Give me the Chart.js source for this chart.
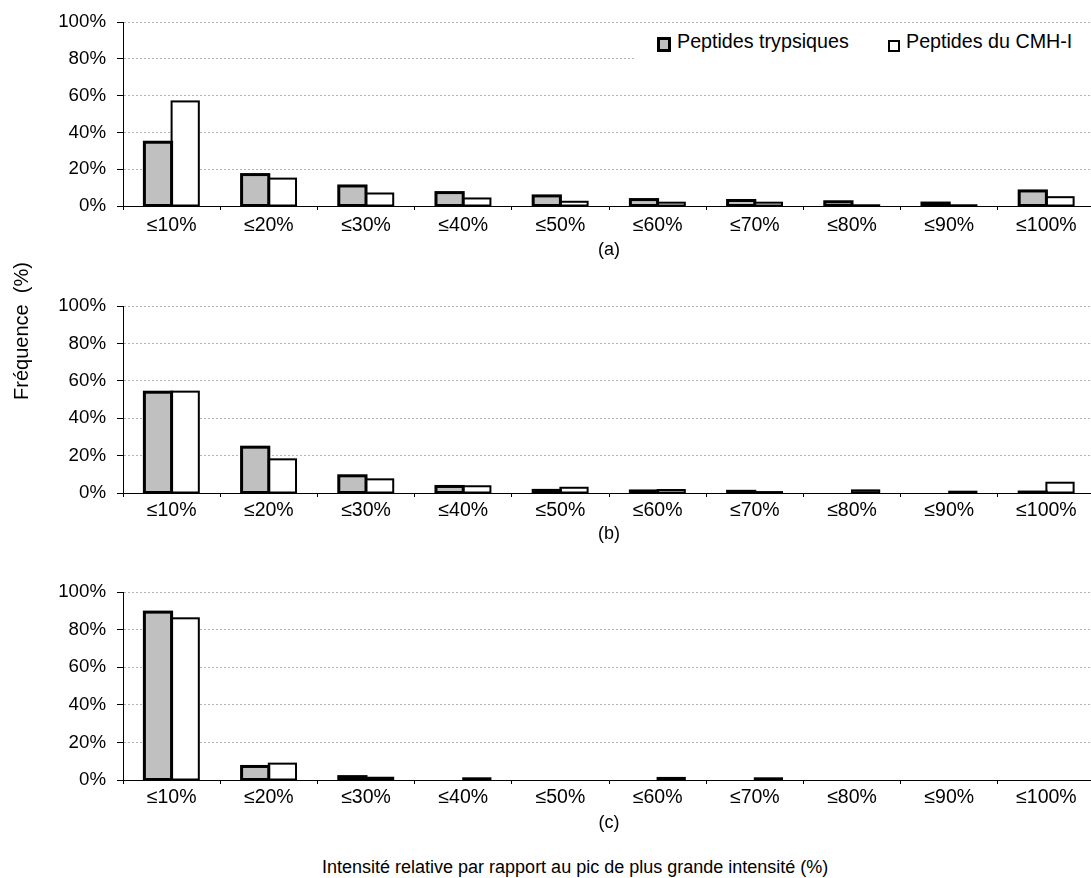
<!DOCTYPE html>
<html>
<head>
<meta charset="utf-8">
<script src="https://cdn.jsdelivr.net/npm/chart.js@4.4.0/dist/chart.umd.min.js"></script>
<style>
html,body{margin:0;padding:0;background:#fff;overflow:hidden;width:1091px;height:878px;}
.panel{position:absolute;left:0;}
.panel canvas{display:block;}
.txt{position:absolute;font-family:'Liberation Sans',Arial,sans-serif;color:#000;white-space:pre;}
</style>
</head>
<body>
<div class="panel" style="top:0px"><canvas id="ca" width="1100" height="270"></canvas></div>
<div class="panel" style="top:280px"><canvas id="cb" width="1100" height="270"></canvas></div>
<div class="panel" style="top:560px"><canvas id="cc" width="1100" height="280"></canvas></div>

<div id="legendBox" style="position:absolute;left:636px;top:24px;width:455px;height:40px;background:#fff;"></div>
<div id="sw0" style="position:absolute;left:657px;top:37px;width:14px;height:15px;box-sizing:border-box;border:3px solid #000;background:#c0c0c0;"></div>
<div id="lg0" class="txt" style="left:677px;top:32px;font-size:19.7px;line-height:19.7px;"></div>
<div id="sw1" style="position:absolute;left:888px;top:40px;width:12px;height:12px;box-sizing:border-box;border:2px solid #000;background:#fff;"></div>
<div id="lg1" class="txt" style="left:906px;top:32px;font-size:19.7px;line-height:19.7px;"></div>

<div id="ytitle" class="txt" style="left:-79px;top:319px;width:200px;height:24px;line-height:24px;font-size:20px;text-align:center;transform:rotate(-90deg);"></div>
<div id="xtitle" class="txt" style="left:322px;top:857px;font-size:18px;line-height:20px;"></div>

<script>
// ---- data ----
const categories = ['≤10%','≤20%','≤30%','≤40%','≤50%','≤60%','≤70%','≤80%','≤90%','≤100%'];
const seriesNames = ['Peptides trypsiques','Peptides du CMH-I'];
const panelLabels = ['(a)','(b)','(c)'];
const yTickValues = [0,20,40,60,80,100];
const yAxisTitle = 'Fréquence  (%)';
const xAxisTitle = 'Intensité relative par rapport au pic de plus grande intensité (%)';

const trypsinA = [34.7, 17.1, 10.9, 7.3, 5.5, 3.5, 3.0, 2.3, 1.6, 8.2];
const mhcA     = [56.9, 14.9, 6.8, 4.1, 2.3, 1.8, 1.8, 0.4, 0.4, 4.8];
const trypsinB = [53.9, 24.5, 9.2, 3.5, 1.4, 1.1, 0.9, 0, 0, 0.5];
const mhcB     = [54.2, 18.0, 7.3, 3.6, 2.8, 1.6, 0.5, 1.4, 0.7, 5.5];
const trypsinC = [89.3, 7.2, 1.8, 0, 0, 0, 0, 0, 0, 0];
const mhcC     = [86.0, 8.7, 1.2, 0.9, 0, 1.1, 0.9, 0, 0, 0];

// ---- text ----
document.getElementById('lg0').textContent = seriesNames[0];
document.getElementById('lg1').textContent = seriesNames[1];
document.getElementById('ytitle').textContent = yAxisTitle;
document.getElementById('xtitle').textContent = xAxisTitle;

const FONT = "'Liberation Sans', Arial, sans-serif";
Chart.defaults.font.family = FONT;
Chart.defaults.color = '#000';

// Excel-like outline: stroke centered on the bar edges, using the bar element geometry
const outlinePlugin = {
  id: 'outline',
  afterDatasetsDraw(chart) {
    const ctx = chart.ctx;
    chart.data.datasets.forEach((ds, i) => {
      const meta = chart.getDatasetMeta(i);
      meta.data.forEach((bar, j) => {
        if (!ds.data[j]) return;
        const p = bar.getProps(['x', 'y', 'base', 'width'], true);
        ctx.save();
        ctx.lineWidth = ds.outlineWidth;
        ctx.strokeStyle = '#000';
        ctx.lineJoin = 'miter';
        ctx.strokeRect(p.x - p.width / 2, p.y, p.width, p.base - p.y);
        ctx.restore();
      });
    });
  }
};

function makePanel(id, gray, white, label, cfg) {
  new Chart(document.getElementById(id), {
    type: 'bar',
    data: {
      labels: categories,
      datasets: [
        { label: seriesNames[0], data: gray, backgroundColor: '#c0c0c0', borderWidth: 0, outlineWidth: 3 },
        { label: seriesNames[1], data: white, backgroundColor: '#ffffff', borderWidth: 0, outlineWidth: 2 }
      ]
    },
    options: {
      responsive: false,
      animation: false,
      events: [],
      layout: { padding: { top: cfg.padTop, right: 5, left: 0, bottom: 0 } },
      datasets: { bar: { categoryPercentage: 0.56, barPercentage: 1.0 } },
      plugins: { legend: { display: false }, tooltip: { enabled: false } },
      scales: {
        x: {
          offset: true,
          grid: { offset: true, drawOnChartArea: false, drawTicks: true, tickLength: 4, color: '#000', tickColor: '#000' },
          border: { display: true, color: '#000', width: 1 },
          ticks: { color: '#000', padding: cfg.tickPad, maxRotation: 0, autoSkip: false, font: { size: 19.5 } },
          title: { display: true, text: label, color: '#000', font: { size: 18 }, padding: { top: 0, bottom: cfg.titlePad } },
          afterFit: s => { s.height = cfg.axisH; }
        },
        y: {
          min: 0, max: 100,
          afterBuildTicks: s => { s.ticks = yTickValues.map(v => ({ value: v })); },
          ticks: { color: '#000', padding: 11, font: { size: 18.7 }, callback: v => v + '%' },
          grid: { color: '#b4b4b4', lineWidth: 1, drawTicks: true, tickLength: 6, tickColor: '#000', tickBorderDash: [] },
          border: { display: true, color: '#000', width: 1, dash: [2, 2] },
          afterFit: s => { s.width = 123; }
        }
      }
    },
    plugins: [outlinePlugin]
  });
}

makePanel('ca', trypsinA, mhcA, panelLabels[0], { padTop: 20, axisH: 64, tickPad: 4, titlePad: 9 });
makePanel('cb', trypsinB, mhcB, panelLabels[1], { padTop: 26, axisH: 57, tickPad: 2, titlePad: 5 });
makePanel('cc', trypsinC, mhcC, panelLabels[2], { padTop: 32, axisH: 60, tickPad: 2, titlePad: 6 });
</script>
</body>
</html>
